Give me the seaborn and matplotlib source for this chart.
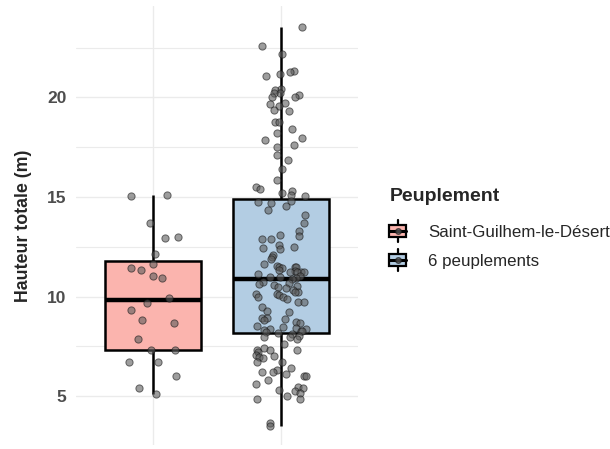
import numpy as np
import pandas as pd
import matplotlib
matplotlib.use("Agg")
import matplotlib.pyplot as plt
import seaborn as sns
from matplotlib.legend_handler import HandlerBase
from matplotlib.patches import Rectangle, Patch
from matplotlib.lines import Line2D

np.random.seed(7)

# Data
groups = ["Saint-Guilhem-le-Désert", "6 peuplements"]
colors = ["#FBB4AE", "#B3CDE3"]

h_saint_guilhem = [15.06, 15.12, 13.72, 12.92, 12.98, 12.14, 11.64, 11.43, 11.36, 11.03,
                   10.91, 9.95, 9.68, 9.32, 8.81, 8.69, 7.89, 7.31, 7.31, 6.73,
                   6.73, 6.00, 5.42, 5.09]

h_six_peuplements = [
    23.55, 22.59, 22.17, 21.34, 21.28, 21.19, 21.06, 20.43, 20.35, 20.23,
    20.23, 20.13, 20.03, 20.03, 19.70, 19.69, 19.57, 19.37, 19.30, 18.79,
    18.79, 18.41, 18.21, 17.96, 17.88, 17.61, 17.50, 17.11, 16.88, 16.42,
    15.86, 15.52, 15.39, 15.30, 15.22, 15.09, 15.06,
    14.79, 14.76, 14.68, 14.56, 14.34, 14.10, 13.72, 13.27, 13.10, 13.02,
    12.90, 12.90, 12.57, 12.50, 12.40, 12.44, 12.07, 12.00, 11.88, 11.64,
    11.53, 11.51, 11.49, 11.47, 11.44, 11.34, 11.31, 11.23, 11.23, 11.21,
    11.21, 11.11, 11.01, 10.98, 10.98, 10.92, 10.86,
    10.75, 10.70, 10.65, 10.56, 10.53, 10.48, 10.45, 10.31, 10.23, 10.23,
    10.15, 10.11, 10.07, 9.98, 9.98, 9.90, 9.74, 9.72, 9.50, 9.27,
    9.24, 8.91, 8.91, 8.86, 8.82, 8.72, 8.66, 8.52, 8.45, 8.40,
    8.36, 8.36, 8.30, 8.27, 8.25, 8.20, 8.18,
    8.11, 8.02, 7.96, 7.96, 7.86, 7.61, 7.44, 7.33, 7.33, 7.33,
    7.23, 7.06, 7.00, 6.95, 6.90, 6.73, 6.73, 6.40, 6.33, 6.23,
    6.23, 6.12, 6.03, 6.00, 5.79, 5.62, 5.46, 5.41, 5.29, 5.24,
    5.17, 5.01, 4.86, 4.86, 3.65, 3.52,
]

y_ticks = [5, 10, 15, 20]

df = pd.DataFrame({
    "Peuplement": [groups[0]] * len(h_saint_guilhem) + [groups[1]] * len(h_six_peuplements),
    "Hauteur": h_saint_guilhem + h_six_peuplements,
})

sns.set_theme(style="white")
plt.rcParams["font.family"] = ["Liberation Sans", "DejaVu Sans"]

fig = plt.figure(figsize=(6.10, 4.49), dpi=100)
ax = fig.add_axes([0.125, 0.009, 0.462, 0.978])

sns.boxplot(data=df, x="Peuplement", y="Hauteur", hue="Peuplement", order=groups,
            hue_order=groups, palette=colors, saturation=1, width=0.75,
            linecolor="black", linewidth=1.8, showfliers=False, showcaps=False,
            legend=False, medianprops={"linewidth": 3.2}, ax=ax)
sns.stripplot(data=df, x="Peuplement", y="Hauteur", order=groups, color="#5c5c5c",
              edgecolor="#1a1a1a", linewidth=0.7, alpha=0.6, size=5.2, jitter=0.2,
              zorder=4, ax=ax)

ax.set_ylim(2.55, 24.6)
ax.set_xlim(-0.6, 1.6)
ax.set_yticks(y_ticks)
ax.set_yticks([7.5, 12.5, 17.5, 22.5], minor=True)
ax.set_xticks([0, 1])
ax.set_xticklabels([])
ax.grid(True, which="major", color="#EBEBEB", linewidth=1.0)
ax.grid(True, which="minor", axis="y", color="#EBEBEB", linewidth=0.8)
ax.set_axisbelow(True)
for s in ax.spines.values():
    s.set_visible(False)
ax.tick_params(axis="both", which="both", length=0)
ax.tick_params(axis="y", labelsize=12.5, labelcolor="#4D4D4D", pad=7)
for lab in ax.get_yticklabels():
    lab.set_fontweight("bold")
ax.set_xlabel("")
ax.set_ylabel("Hauteur totale (m)", fontsize=12.8, fontweight="bold", labelpad=11)


class BoxKey(HandlerBase):
    def create_artists(self, legend, orig_handle, xdescent, ydescent, width, height,
                       fontsize, trans):
        fc = orig_handle.get_facecolor()
        cx = width / 2 - xdescent
        y0 = -ydescent
        arts = [
            Line2D([cx, cx], [y0 - 0.4 * height, y0 + 1.4 * height], color="black",
                   linewidth=1.6, transform=trans),
            Rectangle((-xdescent, y0), width, height,
                      facecolor=fc, edgecolor="black", linewidth=1.6, transform=trans),
            Line2D([-xdescent, width - xdescent], [y0 + 0.5 * height] * 2, color="black",
                   linewidth=2.2, transform=trans),
            Line2D([cx], [y0 + 0.5 * height], marker="o", markersize=4,
                   markerfacecolor="#5c5c5c", markeredgecolor="#1a1a1a", alpha=0.7,
                   linestyle="none", transform=trans),
        ]
        return arts


handles = [Patch(facecolor=c, edgecolor="black") for c in colors]
leg = ax.legend(handles, groups, title="Peuplement", loc="upper left",
                bbox_to_anchor=(0.6135, 0.615), bbox_transform=fig.transFigure,
                frameon=False, fontsize=12.2, handler_map={Patch: BoxKey()},
                handlelength=1.0, handleheight=0.75, handletextpad=1.3,
                labelspacing=0.83, alignment="left",
                title_fontproperties={"weight": "bold", "size": 14})
leg._legend_box.sep = leg._legend_box.sep + 4

fig.savefig("out.png", dpi=100)
